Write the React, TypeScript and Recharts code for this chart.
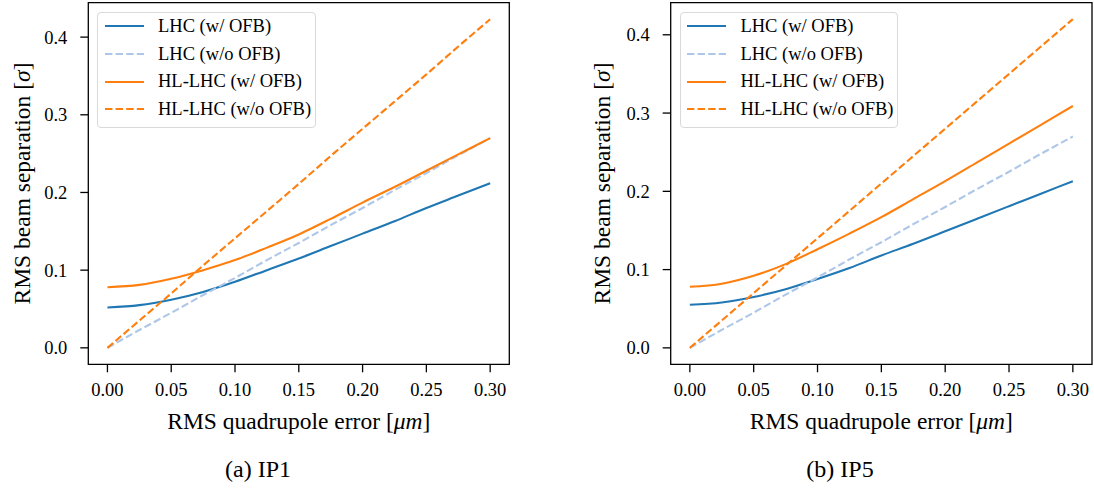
import React from "react";
import { Label, Legend, Line, LineChart, ReferenceArea, XAxis, YAxis } from "recharts";

const FONT = '"Liberation Serif", "DejaVu Serif", serif';

// RMS quadrupole error [µm]
const errors = [0, 0.025, 0.05, 0.075, 0.1, 0.125, 0.15, 0.175, 0.2, 0.225, 0.25, 0.275, 0.3];
const xTicks = [0, 0.05, 0.1, 0.15, 0.2, 0.25, 0.3];
const yTicks = [0, 0.1, 0.2, 0.3, 0.4];

// IP1
const ip1LhcOfb = [0.052, 0.055, 0.062, 0.072, 0.085, 0.1, 0.115, 0.131, 0.147, 0.163, 0.18, 0.196, 0.212];
const ip1LhcNoOfb = [0, 0.023, 0.045, 0.068, 0.09, 0.113, 0.135, 0.158, 0.18, 0.203, 0.225, 0.248, 0.27];
const ip1HlOfb = [0.078, 0.081, 0.089, 0.1, 0.113, 0.129, 0.146, 0.166, 0.187, 0.207, 0.228, 0.249, 0.27];
const ip1HlNoOfb = [0, 0.035, 0.07, 0.106, 0.141, 0.176, 0.211, 0.247, 0.282, 0.317, 0.352, 0.388, 0.423];

// IP5
const ip5LhcOfb = [0.055, 0.058, 0.065, 0.075, 0.088, 0.102, 0.118, 0.133, 0.149, 0.165, 0.181, 0.197, 0.213];
const ip5LhcNoOfb = [0, 0.023, 0.045, 0.068, 0.09, 0.113, 0.135, 0.158, 0.18, 0.203, 0.225, 0.248, 0.27];
const ip5HlOfb = [0.078, 0.082, 0.092, 0.107, 0.126, 0.146, 0.167, 0.19, 0.213, 0.237, 0.261, 0.285, 0.309];
const ip5HlNoOfb = [0, 0.035, 0.07, 0.105, 0.14, 0.175, 0.21, 0.245, 0.28, 0.315, 0.35, 0.385, 0.42];

const SERIES = [
  { key: "lhcOfb", name: "LHC (w/ OFB)", color: "#1f77b4", dash: undefined, curve: "monotone" },
  { key: "lhcNoOfb", name: "LHC (w/o OFB)", color: "#aec7e8", dash: "7.4 3.2", curve: "linear" },
  { key: "hlOfb", name: "HL-LHC (w/ OFB)", color: "#ff7f0e", dash: undefined, curve: "monotone" },
  { key: "hlNoOfb", name: "HL-LHC (w/o OFB)", color: "#ff7f0e", dash: "7.4 3.2", curve: "linear" },
] as const;

const X_MIN = -0.015;
const X_MAX = 0.315;

function rows(cols: Record<string, number[]>) {
  return errors.map((x, i) => {
    const r: Record<string, number> = { x };
    for (const k of Object.keys(cols)) r[k] = cols[k][i];
    return r;
  });
}

const ip1 = rows({ lhcOfb: ip1LhcOfb, lhcNoOfb: ip1LhcNoOfb, hlOfb: ip1HlOfb, hlNoOfb: ip1HlNoOfb });
const ip5 = rows({ lhcOfb: ip5LhcOfb, lhcNoOfb: ip5LhcNoOfb, hlOfb: ip5HlOfb, hlNoOfb: ip5HlNoOfb });

function XTick(p: any) {
  return (
    <text x={p.x} y={p.y} dy="0.71em" textAnchor="middle" fontFamily={FONT} fontSize={18.5} fill="#000">
      {Number(p.payload.value).toFixed(2)}
    </text>
  );
}

function YTick(p: any) {
  return (
    <text x={p.x} y={p.y} dy="0.355em" textAnchor="end" fontFamily={FONT} fontSize={18.5} fill="#000">
      {Number(p.payload.value).toFixed(1)}
    </text>
  );
}

function LegendBox({ payload }: { payload?: any[] }) {
  // keep the plotting order, not the alphabetical one
  const items = SERIES.map((s) => {
    const p = (payload ?? []).find((p) => p.dataKey === s.key);
    return { name: p?.value ?? s.name, color: p?.color ?? s.color, dash: s.dash };
  });
  return (
    <div
      style={{
        boxSizing: "border-box",
        width: 218.7,
        height: 116,
        border: "1.3px solid #d9d9d9",
        borderRadius: 4,
        background: "rgba(255,255,255,0.85)",
        paddingLeft: 6.4,
        fontFamily: FONT,
        fontSize: 18.5,
        color: "#000",
      }}
    >
      {items.map((it) => (
        <div key={it.name} style={{ display: "flex", alignItems: "center", height: 27.6 }}>
          <svg width={39} height={6} style={{ flex: "none" }}>
            <line x1={0} y1={3} x2={39} y2={3} stroke={it.color} strokeWidth={2.1} strokeDasharray={it.dash} />
          </svg>
          <span style={{ marginLeft: 14.3, whiteSpace: "nowrap" }}>{it.name}</span>
        </div>
      ))}
    </div>
  );
}

function Panel({
  data,
  left,
  width,
  yAxisWidth,
  marginRight,
  yDomain,
  yLabelX,
}: {
  data: Record<string, number>[];
  left: number;
  width: number;
  yAxisWidth: number;
  marginRight: number;
  yDomain: [number, number];
  yLabelX: number;
}) {
  const tickLine = { stroke: "#000", strokeWidth: 1.3 };
  return (
    <div style={{ position: "absolute", left, top: 0 }}>
      <LineChart width={width} height={489} data={data} margin={{ top: 2.7, right: marginRight, left: 0, bottom: 64.7 }}>
        <XAxis
          dataKey="x"
          type="number"
          domain={[X_MIN, X_MAX]}
          allowDataOverflow
          ticks={xTicks}
          tick={<XTick />}
          tickLine={tickLine}
          tickSize={8}
          tickMargin={11}
          axisLine={false}
          height={60}
        >
          <Label
            content={(p: any) => {
              const vb = p.viewBox;
              return (
                <text x={vb.x + vb.width / 2} y={vb.y + 65} textAnchor="middle" fontFamily={FONT} fontSize={23.5} fill="#000">
                  RMS quadrupole error [<tspan fontStyle="italic">μm</tspan>]
                </text>
              );
            }}
          />
        </XAxis>
        <YAxis
          type="number"
          domain={yDomain}
          allowDataOverflow
          ticks={yTicks}
          tick={<YTick />}
          tickLine={tickLine}
          tickSize={8}
          tickMargin={13}
          axisLine={false}
          width={yAxisWidth}
        >
          <Label
            content={(p: any) => {
              const vb = p.viewBox;
              const cx = vb.x + yLabelX;
              const cy = vb.y + vb.height / 2;
              return (
                <text x={cx} y={cy} transform={`rotate(-90, ${cx}, ${cy})`} textAnchor="middle" fontFamily={FONT} fontSize={23.5} fill="#000">
                  RMS beam separation [<tspan fontStyle="italic">σ</tspan>]
                </text>
              );
            }}
          />
        </YAxis>
        {SERIES.map((s) => (
          <Line
            key={s.key}
            dataKey={s.key}
            name={s.name}
            type={s.curve}
            stroke={s.color}
            strokeWidth={2.1}
            strokeDasharray={s.dash}
            dot={false}
            activeDot={false}
            isAnimationActive={false}
          />
        ))}
        <ReferenceArea
          x1={X_MIN}
          x2={X_MAX}
          y1={yDomain[0]}
          y2={yDomain[1]}
          fill="none"
          stroke="#000"
          strokeWidth={1.3}
          ifOverflow="visible"
        />
        <Legend
          layout="vertical"
          align="center"
          verticalAlign="middle"
          wrapperStyle={{ top: 11.7, left: yAxisWidth + 9, width: 218.7, height: 116 }}
          content={(p: any) => <LegendBox payload={p.payload} />}
        />
      </LineChart>
    </div>
  );
}

export default function App() {
  return (
    <div style={{ position: "absolute", left: 0, top: 0, width: 1094, height: 489, background: "#fff" }}>
      <Panel data={ip1} left={0} width={520} yAxisWidth={88.3} marginRight={10.7} yDomain={[-0.0212, 0.4443]} yLabelX={30} />
      <Panel data={ip5} left={582} width={512} yAxisWidth={88.7} marginRight={2} yDomain={[-0.021, 0.441]} yLabelX={28} />
      <svg width={1094} height={489} style={{ position: "absolute", left: 0, top: 0, pointerEvents: "none" }}>
        <text x={258} y={477} textAnchor="middle" fontFamily={FONT} fontSize={24} fill="#000">
          (a) IP1
        </text>
        <text x={840} y={477} textAnchor="middle" fontFamily={FONT} fontSize={24} fill="#000">
          (b) IP5
        </text>
      </svg>
    </div>
  );
}
